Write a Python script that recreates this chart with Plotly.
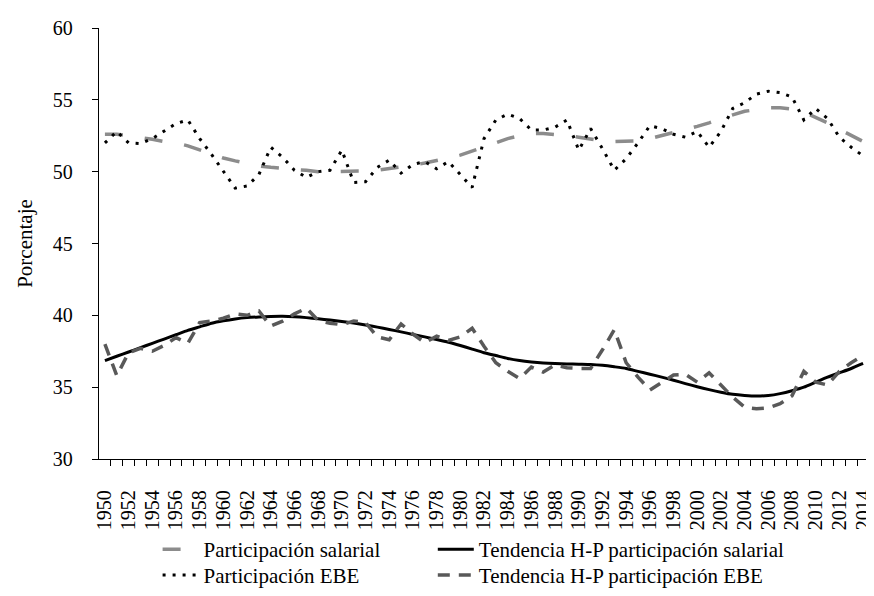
import plotly.graph_objects as go

years = list(range(1950, 2015))

# Upper smooth gray dashed line (legend: Participación salarial)
part_salarial = [52.6, 52.6, 52.5, 52.4, 52.25, 52.1, 52.0, 51.8, 51.5, 51.25,
                 50.95, 50.75, 50.55, 50.4, 50.3, 50.2, 50.15, 50.1, 50.0, 50.0,
                 50.0, 50.0, 50.05, 50.1, 50.2, 50.3, 50.45, 50.6, 50.75, 50.95,
                 51.15, 51.45, 51.75, 52.05, 52.3, 52.5, 52.65, 52.65, 52.6, 52.5,
                 52.4, 52.25, 52.15, 52.1, 52.1, 52.15, 52.3, 52.5, 52.7, 52.9,
                 53.15, 53.4, 53.7, 53.95, 54.2, 54.35, 54.45, 54.45, 54.35, 54.15,
                 53.8, 53.4, 52.95, 52.5, 52.1]

# Lower smooth black line (legend: Tendencia H-P participación salarial)
hp_salarial = [36.85, 37.15, 37.45, 37.75, 38.05, 38.35, 38.65, 38.95, 39.2, 39.45,
               39.62, 39.75, 39.84, 39.89, 39.92, 39.93, 39.9, 39.84, 39.76, 39.67,
               39.57, 39.46, 39.33, 39.18, 39.02, 38.85, 38.67, 38.5, 38.32, 38.13,
               37.9, 37.65, 37.4, 37.2, 37.0, 36.85, 36.75, 36.68, 36.64, 36.62,
               36.6, 36.58, 36.52, 36.42, 36.3, 36.1, 35.9, 35.7, 35.48, 35.25,
               35.03, 34.83, 34.65, 34.5, 34.42, 34.38, 34.42, 34.55, 34.75, 35.0,
               35.35, 35.7, 36.0, 36.3, 36.65]

# Upper wiggly dotted line (legend: Participación EBE)
part_ebe = [52.0, 52.8, 52.0, 51.95, 52.3, 52.8, 53.35, 53.6, 52.3, 51.2,
            50.0, 48.85, 49.0, 49.8, 51.7, 51.0, 50.1, 49.6, 50.0, 50.1,
            51.5, 49.25, 49.3, 50.3, 50.8, 49.9, 50.5, 50.7, 50.2, 50.7,
            49.8, 48.9, 52.3, 53.6, 54.0, 53.7, 52.9, 52.9, 53.1, 53.6,
            51.5, 53.0, 51.6, 50.1, 50.9, 52.0, 53.2, 53.0, 52.6, 52.4,
            52.8, 51.7, 52.8, 54.4, 54.8, 55.4, 55.6, 55.5, 55.2, 53.6,
            54.4, 53.7, 52.4, 51.7, 51.1]

# Lower wiggly dark dashed line (legend: Tendencia H-P participación EBE)
hp_ebe = [38.0, 35.8, 37.4, 37.7, 37.5, 37.9, 38.45, 38.05, 39.5, 39.6,
          39.8, 40.1, 40.0, 40.3, 39.25, 39.6, 40.1, 40.5, 39.65, 39.45,
          39.35, 39.6, 39.5, 38.5, 38.3, 39.4, 38.7, 38.1, 38.55, 38.25,
          38.5, 39.1, 37.85, 36.7, 36.1, 35.6, 36.4, 36.05, 36.55, 36.35,
          36.3, 36.3, 37.6, 39.0, 36.7, 35.7, 34.8, 35.3, 35.85, 35.9,
          35.35, 36.0, 35.15, 34.3, 33.6, 33.5, 33.55, 33.85, 34.4, 36.1,
          35.35, 35.15, 36.1, 36.7, 37.2]

tick_years = years[::2]
tick_labels = [str(y) for y in tick_years]
y_ticks = [30, 35, 40, 45, 50, 55, 60]

names = ["Participación salarial", "Tendencia H-P participación salarial",
         "Participación EBE", "Tendencia H-P participación EBE"]

FONT = "Liberation Serif, Times New Roman, serif"

fig = go.Figure()
fig.add_trace(go.Scatter(x=years, y=part_salarial, mode="lines", name=names[0], legend="legend",
                         line=dict(color="#8c8c8c", width=3.5, dash="18px,22px")))
fig.add_trace(go.Scatter(x=years, y=hp_salarial, mode="lines", name=names[1], legend="legend2",
                         line=dict(color="black", width=3, shape="spline", smoothing=0.6)))
fig.add_trace(go.Scatter(x=years, y=part_ebe, mode="lines", name=names[2], legend="legend3",
                         line=dict(color="black", width=3, dash="3px,7px")))
fig.add_trace(go.Scatter(x=years, y=hp_ebe, mode="lines", name=names[3], legend="legend4",
                         line=dict(color="#595959", width=3.5, dash="12px,9px")))

def leg(x, y):
    return dict(orientation="h", x=x, xanchor="left", y=y, yanchor="middle",
                itemwidth=36, font=dict(size=21, family=FONT, color="black"),
                bgcolor="rgba(0,0,0,0)", borderwidth=0)

# plot area: left 91, right 866 (width 775)
fig.update_layout(
    width=874, height=596,
    margin=dict(l=91, r=8, t=20, b=135),
    paper_bgcolor="white", plot_bgcolor="white",
    font=dict(family=FONT, size=20, color="black"),
    showlegend=True,
    legend=leg(0.0761, -0.21),
    legend2=leg(0.4335, -0.21),
    legend3=leg(0.0761, -0.27),
    legend4=leg(0.4335, -0.27),
)
fig.update_xaxes(
    range=[years[0] - 0.5, years[-1] + 0.5],
    tickmode="array", tickvals=tick_years, ticktext=tick_labels,
    tickangle=-90, ticks="", showgrid=False, zeroline=False,
    showline=True, linecolor="black", linewidth=1.3,
    tickfont=dict(size=20, family=FONT), ticklabelstandoff=22,
    minor=dict(tickmode="array", tickvals=[y + 0.5 for y in years[:-1]] + [years[-1] + 0.5],
               ticks="outside", ticklen=6, tickcolor="black", tickwidth=1.2, showgrid=False),
)
fig.update_yaxes(
    range=[30, 60], tickmode="array", tickvals=y_ticks,
    ticks="outside", ticklen=6, tickcolor="black", tickwidth=1.2,
    showgrid=False, zeroline=False, showline=True, linecolor="black", linewidth=1.3,
    tickfont=dict(size=20, family=FONT), ticklabelstandoff=15,
    title=dict(text="Porcentaje", font=dict(size=21, family=FONT), standoff=14),
)

fig.write_html("out.html")
